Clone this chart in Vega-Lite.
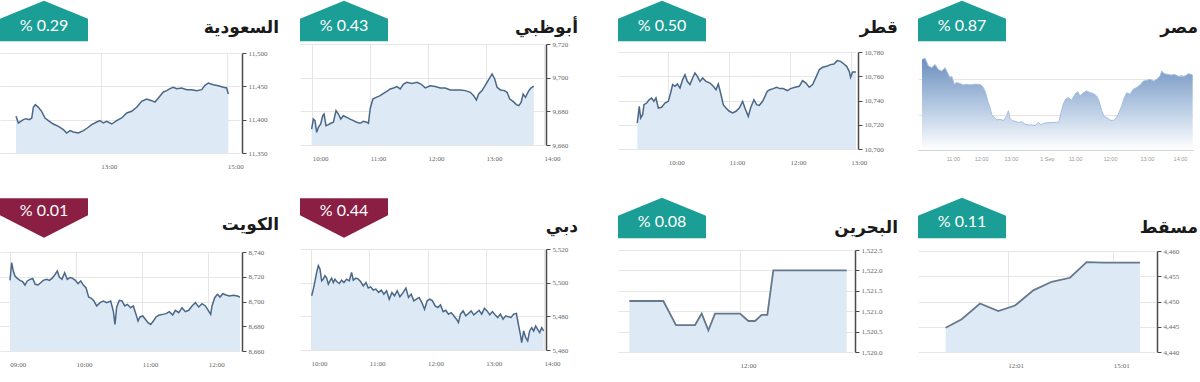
{
"$schema": "https://vega.github.io/schema/vega-lite/v6.json",
"padding": 0,
"background": "#ffffff",
"config": {
  "view": {"stroke": null},
  "axis": {"labelFont": "Liberation Serif", "labelFontSize": 7, "labelColor": "#666666", "gridColor": "#e6e6e6", "labelFlush": false, "labelOverlap": false, "grid": true},
  "axisX": {"domain": false, "ticks": false, "labelAlign": "left", "labelPadding": 9},
  "axisY": {"domainColor": "#4a4a4a", "domainWidth": 1.5, "tickColor": "#4a4a4a", "tickSize": 4, "labelPadding": 2},
  "title": {"font": "DejaVu Sans", "fontSize": 17, "fontWeight": "bold", "color": "#1a1a1a", "anchor": "end", "frame": "group", "baseline": "alphabetic"}
},
"datasets": {
  "badges": [
    {"m": "السعودية", "label": "% 0.29", "dir": "up"},
    {"m": "أبوظبي", "label": "% 0.43", "dir": "up"},
    {"m": "قطر", "label": "% 0.50", "dir": "up"},
    {"m": "مصر", "label": "% 0.87", "dir": "up"},
    {"m": "الكويت", "label": "% 0.01", "dir": "down"},
    {"m": "دبي", "label": "% 0.44", "dir": "down"},
    {"m": "البحرين", "label": "% 0.08", "dir": "up"},
    {"m": "مسقط", "label": "% 0.11", "dir": "up"}
  ],
  "saudi": [
    {"h":11.663,"v":11405},{"h":11.700,"v":11395},{"h":11.737,"v":11397.5},{"h":11.779,"v":11400},{"h":11.821,"v":11401.5},{"h":11.874,"v":11400},{"h":11.911,"v":11402.5},{"h":11.937,"v":11418.5},{"h":11.968,"v":11422.5},{"h":12.016,"v":11418.5},{"h":12.068,"v":11412.5},{"h":12.121,"v":11402.5},{"h":12.174,"v":11398.5},{"h":12.253,"v":11393.5},{"h":12.332,"v":11390},{"h":12.411,"v":11385},{"h":12.463,"v":11380},{"h":12.516,"v":11383.5},{"h":12.568,"v":11381.5},{"h":12.647,"v":11380},{"h":12.726,"v":11383.5},{"h":12.789,"v":11387.5},{"h":12.858,"v":11392.5},{"h":12.937,"v":11396.5},{"h":12.989,"v":11398.5},{"h":13.042,"v":11395},{"h":13.095,"v":11397.5},{"h":13.174,"v":11393.5},{"h":13.253,"v":11398.5},{"h":13.332,"v":11402.5},{"h":13.411,"v":11410},{"h":13.489,"v":11412.5},{"h":13.568,"v":11418.5},{"h":13.647,"v":11427.5},{"h":13.726,"v":11431},{"h":13.805,"v":11428.5},{"h":13.858,"v":11426.5},{"h":13.911,"v":11432.5},{"h":13.989,"v":11441.5},{"h":14.042,"v":11443.5},{"h":14.095,"v":11446.5},{"h":14.147,"v":11448.5},{"h":14.2,"v":11446.5},{"h":14.279,"v":11447.5},{"h":14.358,"v":11445},{"h":14.437,"v":11445},{"h":14.516,"v":11443.5},{"h":14.595,"v":11445},{"h":14.647,"v":11451.5},{"h":14.7,"v":11455},{"h":14.779,"v":11452.5},{"h":14.858,"v":11451},{"h":14.937,"v":11448.5},{"h":14.989,"v":11447.5},{"h":15.016,"v":11438.5}
  ],
  "abudhabi": [
    {"h":9.991,"v":9669.5},{"h":10.020,"v":9675.4},{"h":10.049,"v":9674.5},{"h":10.078,"v":9667.5},{"h":10.107,"v":9670.5},{"h":10.147,"v":9672.5},{"h":10.182,"v":9677.4},{"h":10.205,"v":9678.4},{"h":10.239,"v":9671.5},{"h":10.280,"v":9672.1},{"h":10.320,"v":9672.9},{"h":10.366,"v":9673.5},{"h":10.412,"v":9680.4},{"h":10.452,"v":9678.4},{"h":10.493,"v":9675.4},{"h":10.539,"v":9677.4},{"h":10.597,"v":9676.4},{"h":10.654,"v":9675.4},{"h":10.712,"v":9674.5},{"h":10.769,"v":9673.5},{"h":10.827,"v":9672.9},{"h":10.885,"v":9674.1},{"h":10.942,"v":9673.5},{"h":10.971,"v":9672.9},{"h":11.000,"v":9681.4},{"h":11.046,"v":9687.3},{"h":11.104,"v":9688.3},{"h":11.173,"v":9689.3},{"h":11.231,"v":9690.7},{"h":11.288,"v":9691.9},{"h":11.346,"v":9693.3},{"h":11.403,"v":9693.9},{"h":11.461,"v":9694.7},{"h":11.519,"v":9693.3},{"h":11.576,"v":9696.2},{"h":11.634,"v":9697.2},{"h":11.720,"v":9696.6},{"h":11.807,"v":9697.2},{"h":11.876,"v":9696.2},{"h":11.951,"v":9693.9},{"h":12.037,"v":9695.2},{"h":12.124,"v":9694.7},{"h":12.210,"v":9693.9},{"h":12.297,"v":9693.9},{"h":12.383,"v":9692.7},{"h":12.470,"v":9692.7},{"h":12.556,"v":9692.7},{"h":12.643,"v":9692.3},{"h":12.729,"v":9691.3},{"h":12.787,"v":9689.3},{"h":12.833,"v":9686.7},{"h":12.873,"v":9690.3},{"h":12.931,"v":9692.3},{"h":13.017,"v":9697.2},{"h":13.104,"v":9702.2},{"h":13.150,"v":9699.2},{"h":13.190,"v":9694.3},{"h":13.248,"v":9692.7},{"h":13.317,"v":9692.3},{"h":13.363,"v":9691.3},{"h":13.409,"v":9687.3},{"h":13.467,"v":9685.9},{"h":13.524,"v":9684.0},{"h":13.565,"v":9683.4},{"h":13.605,"v":9685.3},{"h":13.640,"v":9690.3},{"h":13.680,"v":9688.3},{"h":13.738,"v":9692.3},{"h":13.778,"v":9693.9},{"h":13.824,"v":9695.0}
  ],
  "qatar": [
    {"h":9.490,"v":10721.4},{"h":9.523,"v":10735.2},{"h":9.545,"v":10725.6},{"h":9.578,"v":10728.3},{"h":9.600,"v":10736.6},{"h":9.644,"v":10737.9},{"h":9.688,"v":10740.7},{"h":9.726,"v":10742.1},{"h":9.764,"v":10739.3},{"h":9.797,"v":10742.1},{"h":9.836,"v":10733.8},{"h":9.890,"v":10734.4},{"h":9.945,"v":10737.9},{"h":10.000,"v":10739.3},{"h":10.038,"v":10746.2},{"h":10.071,"v":10753.1},{"h":10.110,"v":10751.7},{"h":10.148,"v":10753.6},{"h":10.192,"v":10750.3},{"h":10.236,"v":10757.2},{"h":10.274,"v":10761.3},{"h":10.312,"v":10755.8},{"h":10.356,"v":10753.1},{"h":10.400,"v":10758.6},{"h":10.438,"v":10762.7},{"h":10.477,"v":10759.9},{"h":10.521,"v":10755.8},{"h":10.564,"v":10758.6},{"h":10.619,"v":10755.8},{"h":10.685,"v":10754.4},{"h":10.740,"v":10751.7},{"h":10.784,"v":10748.9},{"h":10.822,"v":10753.6},{"h":10.860,"v":10746.2},{"h":10.904,"v":10736.6},{"h":10.948,"v":10733.8},{"h":11.003,"v":10731.1},{"h":11.058,"v":10729.7},{"h":11.112,"v":10731.1},{"h":11.167,"v":10733.8},{"h":11.222,"v":10739.3},{"h":11.260,"v":10733.8},{"h":11.315,"v":10726.9},{"h":11.353,"v":10733.8},{"h":11.408,"v":10740.7},{"h":11.452,"v":10736.6},{"h":11.496,"v":10736.0},{"h":11.551,"v":10739.3},{"h":11.589,"v":10743.4},{"h":11.627,"v":10747.6},{"h":11.671,"v":10748.9},{"h":11.726,"v":10749.8},{"h":11.781,"v":10750.9},{"h":11.836,"v":10749.8},{"h":11.890,"v":10749.8},{"h":11.956,"v":10748.1},{"h":12.011,"v":10749.8},{"h":12.082,"v":10750.9},{"h":12.153,"v":10751.7},{"h":12.208,"v":10756.4},{"h":12.263,"v":10754.4},{"h":12.318,"v":10750.9},{"h":12.373,"v":10753.1},{"h":12.427,"v":10759.1},{"h":12.482,"v":10765.4},{"h":12.537,"v":10767.4},{"h":12.603,"v":10768.2},{"h":12.668,"v":10769.6},{"h":12.723,"v":10770.1},{"h":12.778,"v":10772.9},{"h":12.833,"v":10772.3},{"h":12.888,"v":10770.1},{"h":12.932,"v":10768.2},{"h":12.975,"v":10764.1},{"h":12.997,"v":10759.1},{"h":13.030,"v":10763.5},{"h":13.085,"v":10763.5}
  ],
  "egypt": [
    {"h":0,"v":7.556},{"h":1.11,"v":7.560},{"h":2.34,"v":7.538},{"h":3.57,"v":7.533},{"h":4.80,"v":7.542},{"h":6.03,"v":7.528},{"h":7.26,"v":7.523},{"h":8.49,"v":7.533},{"h":9.72,"v":7.514},{"h":10.33,"v":7.505},{"h":10.95,"v":7.509},{"h":11.93,"v":7.486},{"h":12.79,"v":7.491},{"h":14.02,"v":7.488},{"h":15.25,"v":7.484},{"h":16.48,"v":7.486},{"h":17.71,"v":7.484},{"h":18.94,"v":7.486},{"h":20.79,"v":7.486},{"h":21.77,"v":7.484},{"h":22.63,"v":7.477},{"h":23.49,"v":7.462},{"h":24.23,"v":7.439},{"h":25.09,"v":7.420},{"h":25.71,"v":7.401},{"h":26.69,"v":7.392},{"h":27.55,"v":7.385},{"h":28.78,"v":7.387},{"h":30.01,"v":7.383},{"h":31.24,"v":7.397},{"h":31.86,"v":7.411},{"h":32.47,"v":7.390},{"h":33.33,"v":7.383},{"h":34.32,"v":7.381},{"h":35.55,"v":7.378},{"h":36.78,"v":7.380},{"h":38.01,"v":7.373},{"h":39.24,"v":7.371},{"h":40.47,"v":7.371},{"h":41.70,"v":7.369},{"h":42.93,"v":7.378},{"h":43.91,"v":7.371},{"h":44.77,"v":7.375},{"h":46.00,"v":7.377},{"h":47.85,"v":7.378},{"h":49.69,"v":7.378},{"h":50.55,"v":7.380},{"h":51.29,"v":7.406},{"h":52.15,"v":7.430},{"h":53.01,"v":7.444},{"h":54.00,"v":7.448},{"h":55.23,"v":7.441},{"h":56.46,"v":7.458},{"h":57.44,"v":7.465},{"h":58.30,"v":7.453},{"h":59.53,"v":7.462},{"h":60.76,"v":7.467},{"h":61.99,"v":7.462},{"h":63.22,"v":7.460},{"h":64.45,"v":7.453},{"h":65.31,"v":7.439},{"h":66.30,"v":7.411},{"h":67.28,"v":7.394},{"h":68.51,"v":7.390},{"h":69.74,"v":7.383},{"h":70.97,"v":7.385},{"h":71.83,"v":7.392},{"h":72.69,"v":7.406},{"h":73.68,"v":7.425},{"h":74.66,"v":7.448},{"h":75.52,"v":7.462},{"h":76.75,"v":7.458},{"h":77.98,"v":7.472},{"h":79.21,"v":7.477},{"h":80.44,"v":7.484},{"h":81.67,"v":7.495},{"h":82.90,"v":7.497},{"h":84.13,"v":7.500},{"h":85.36,"v":7.495},{"h":86.59,"v":7.500},{"h":87.82,"v":7.509},{"h":88.44,"v":7.523},{"h":89.42,"v":7.516},{"h":90.65,"v":7.514},{"h":91.88,"v":7.512},{"h":93.11,"v":7.514},{"h":94.59,"v":7.509},{"h":95.82,"v":7.507},{"h":97.05,"v":7.509},{"h":98.28,"v":7.516},{"h":99.26,"v":7.514},{"h":99.88,"v":7.512}
  ],
  "kuwait": [
    {"h":9.003,"v":8717.1},{"h":9.028,"v":8731.4},{"h":9.053,"v":8724.6},{"h":9.078,"v":8720.6},{"h":9.113,"v":8718.7},{"h":9.154,"v":8717.1},{"h":9.194,"v":8716.0},{"h":9.229,"v":8713.3},{"h":9.264,"v":8716.6},{"h":9.305,"v":8717.9},{"h":9.345,"v":8718.7},{"h":9.385,"v":8713.9},{"h":9.426,"v":8713.3},{"h":9.466,"v":8715.2},{"h":9.506,"v":8717.1},{"h":9.557,"v":8717.9},{"h":9.597,"v":8717.1},{"h":9.637,"v":8718.7},{"h":9.678,"v":8721.4},{"h":9.718,"v":8724.6},{"h":9.748,"v":8719.8},{"h":9.788,"v":8717.9},{"h":9.829,"v":8723.3},{"h":9.869,"v":8717.9},{"h":9.909,"v":8719.3},{"h":9.950,"v":8718.7},{"h":9.990,"v":8717.1},{"h":10.030,"v":8714.4},{"h":10.071,"v":8716.6},{"h":10.111,"v":8713.3},{"h":10.151,"v":8711.2},{"h":10.191,"v":8703.6},{"h":10.232,"v":8702.6},{"h":10.272,"v":8700.4},{"h":10.312,"v":8696.4},{"h":10.363,"v":8699.1},{"h":10.413,"v":8700.4},{"h":10.463,"v":8699.1},{"h":10.524,"v":8700.4},{"h":10.564,"v":8692.3},{"h":10.589,"v":8681.5},{"h":10.615,"v":8695.6},{"h":10.655,"v":8700.9},{"h":10.695,"v":8700.4},{"h":10.736,"v":8696.4},{"h":10.776,"v":8697.7},{"h":10.826,"v":8695.0},{"h":10.866,"v":8696.4},{"h":10.907,"v":8689.6},{"h":10.937,"v":8684.2},{"h":10.967,"v":8687.5},{"h":11.008,"v":8688.3},{"h":11.048,"v":8685.6},{"h":11.088,"v":8682.9},{"h":11.128,"v":8681.5},{"h":11.169,"v":8684.2},{"h":11.209,"v":8687.5},{"h":11.259,"v":8689.1},{"h":11.310,"v":8689.6},{"h":11.360,"v":8690.2},{"h":11.411,"v":8691.8},{"h":11.461,"v":8689.1},{"h":11.501,"v":8692.9},{"h":11.552,"v":8691.0},{"h":11.602,"v":8695.0},{"h":11.652,"v":8691.8},{"h":11.703,"v":8692.9},{"h":11.753,"v":8696.4},{"h":11.804,"v":8699.1},{"h":11.854,"v":8695.6},{"h":11.904,"v":8698.2},{"h":11.955,"v":8696.4},{"h":12.005,"v":8692.3},{"h":12.035,"v":8689.6},{"h":12.055,"v":8696.4},{"h":12.096,"v":8703.1},{"h":12.136,"v":8705.8},{"h":12.176,"v":8703.6},{"h":12.217,"v":8706.3},{"h":12.267,"v":8705.3},{"h":12.317,"v":8704.4},{"h":12.378,"v":8705.0},{"h":12.438,"v":8704.4},{"h":12.479,"v":8703.6}
  ],
  "dubai": [
    {"h":10.011,"v":5492.2},{"h":10.040,"v":5496.2},{"h":10.069,"v":5501.1},{"h":10.097,"v":5506.1},{"h":10.126,"v":5510.1},{"h":10.154,"v":5508.1},{"h":10.183,"v":5501.1},{"h":10.211,"v":5502.1},{"h":10.240,"v":5504.1},{"h":10.269,"v":5502.7},{"h":10.297,"v":5499.1},{"h":10.326,"v":5501.1},{"h":10.354,"v":5502.7},{"h":10.383,"v":5500.1},{"h":10.411,"v":5502.1},{"h":10.440,"v":5500.7},{"h":10.486,"v":5499.5},{"h":10.526,"v":5501.5},{"h":10.566,"v":5500.1},{"h":10.611,"v":5502.1},{"h":10.657,"v":5501.1},{"h":10.697,"v":5506.1},{"h":10.726,"v":5501.5},{"h":10.771,"v":5502.7},{"h":10.811,"v":5502.1},{"h":10.851,"v":5500.7},{"h":10.897,"v":5498.1},{"h":10.943,"v":5500.1},{"h":10.983,"v":5496.8},{"h":11.023,"v":5497.5},{"h":11.069,"v":5495.6},{"h":11.114,"v":5496.2},{"h":11.160,"v":5494.2},{"h":11.206,"v":5495.6},{"h":11.251,"v":5493.2},{"h":11.297,"v":5495.2},{"h":11.343,"v":5490.2},{"h":11.389,"v":5494.2},{"h":11.434,"v":5492.2},{"h":11.480,"v":5495.2},{"h":11.526,"v":5491.6},{"h":11.583,"v":5494.2},{"h":11.629,"v":5496.8},{"h":11.674,"v":5491.2},{"h":11.720,"v":5493.2},{"h":11.766,"v":5489.2},{"h":11.811,"v":5490.2},{"h":11.857,"v":5491.2},{"h":11.903,"v":5488.2},{"h":11.949,"v":5484.2},{"h":11.994,"v":5489.2},{"h":12.040,"v":5490.2},{"h":12.086,"v":5489.2},{"h":12.131,"v":5486.2},{"h":12.177,"v":5485.2},{"h":12.223,"v":5486.8},{"h":12.269,"v":5482.8},{"h":12.314,"v":5483.6},{"h":12.360,"v":5481.3},{"h":12.406,"v":5482.2},{"h":12.451,"v":5480.3},{"h":12.497,"v":5478.3},{"h":12.531,"v":5476.3},{"h":12.566,"v":5481.3},{"h":12.611,"v":5483.2},{"h":12.657,"v":5480.3},{"h":12.703,"v":5481.7},{"h":12.749,"v":5483.2},{"h":12.794,"v":5480.9},{"h":12.840,"v":5482.2},{"h":12.886,"v":5483.6},{"h":12.931,"v":5481.3},{"h":12.977,"v":5484.8},{"h":13.023,"v":5483.2},{"h":13.069,"v":5480.9},{"h":13.114,"v":5482.8},{"h":13.160,"v":5480.9},{"h":13.206,"v":5479.3},{"h":13.251,"v":5481.3},{"h":13.297,"v":5478.3},{"h":13.343,"v":5480.3},{"h":13.389,"v":5479.7},{"h":13.434,"v":5479.3},{"h":13.480,"v":5481.3},{"h":13.526,"v":5481.7},{"h":13.560,"v":5475.3},{"h":13.594,"v":5469.3},{"h":13.617,"v":5464.4},{"h":13.651,"v":5471.3},{"h":13.686,"v":5467.3},{"h":13.720,"v":5465.4},{"h":13.754,"v":5471.3},{"h":13.789,"v":5473.3},{"h":13.823,"v":5471.3},{"h":13.857,"v":5474.3},{"h":13.891,"v":5472.3},{"h":13.926,"v":5470.3},{"h":13.960,"v":5473.3},{"h":13.994,"v":5471.3}
  ],
  "bahrain": [
    {"h":10.0,"v":1521.25},{"h":10.614,"v":1521.25},{"h":10.843,"v":1520.66},{"h":11.187,"v":1520.66},{"h":11.307,"v":1520.94},{"h":11.428,"v":1520.53},{"h":11.548,"v":1520.94},{"h":12.0,"v":1520.94},{"h":12.151,"v":1520.76},{"h":12.271,"v":1520.76},{"h":12.392,"v":1520.91},{"h":12.494,"v":1520.91},{"h":12.602,"v":1522.0},{"h":13.928,"v":1522.0}
  ],
  "muscat": [
    {"h":10.257,"v":4444.8},{"h":10.711,"v":4446.5},{"h":11.231,"v":4449.6},{"h":11.752,"v":4448.1},{"h":12.225,"v":4449.2},{"h":12.745,"v":4452.2},{"h":13.266,"v":4453.9},{"h":13.786,"v":4454.7},{"h":14.259,"v":4457.8},{"h":14.732,"v":4457.7},{"h":15.773,"v":4457.7}
  ]
},
"vconcat": [
 {"spacing": 40, "hconcat": [
  {"spacing": 21, "hconcat": [
   {"bounds": "flush", "spacing": 12, "vconcat": [
     {"width": 88, "height": 40, "data": {"name": "badges"}, "transform": [{"filter": "datum.m == 'السعودية'"}],
      "encoding": {"x": {"field": "m", "type": "nominal", "axis": null}, "y": {"field": "m", "type": "nominal", "axis": null}},
      "layer": [
        {"mark": {"type": "point", "filled": true, "size": 7744, "opacity": 1, "strokeWidth": 0},
         "encoding": {"shape": {"field": "dir", "type": "nominal", "scale": {"domain": ["up", "down"], "range": ["M-1,-0.05L0,-0.46L1,-0.05L1,0.46L-1,0.46Z", "M-1,-0.45L1,-0.45L1,-0.06L0,0.45L-1,-0.06Z"]}, "legend": null},
                      "color": {"field": "dir", "type": "nominal", "scale": {"domain": ["up", "down"], "range": ["#1b9e95", "#8b1e43"]}, "legend": null}}},
        {"mark": {"type": "text", "font": "Lato", "fontSize": 16, "color": "#ffffff", "dy": 5}, "encoding": {"text": {"field": "label"}}}
      ]},
     {"width": 240, "height": 100, "data": {"name": "saudi"},
      "title": {"text": "السعودية", "dx": 39, "offset": 12},
      "encoding": {
        "x": {"field": "h", "type": "quantitative", "scale": {"domain": [11.41, 15.2]}, "axis": {"title": null, "values": [13, 15], "labelExpr": "format(floor(datum.value+0.001),'02d')+':'+format(round((datum.value-floor(datum.value+0.001))*60),'02d')"}},
        "y": {"field": "v", "type": "quantitative", "scale": {"domain": [11350, 11500], "zero": false}, "axis": {"title": null, "orient": "right", "offset": 2, "values": [11350, 11400, 11450, 11500], "format": ",.0f"}}
      },
      "layer": [
        {"mark": {"type": "area", "color": "#dde9f5", "clip": true}},
        {"mark": {"type": "line", "color": "#4b6788", "strokeWidth": 1.5, "clip": true}}
      ]}
   ]},
   {"bounds": "flush", "spacing": 3, "vconcat": [
     {"width": 88, "height": 40, "data": {"name": "badges"}, "transform": [{"filter": "datum.m == 'أبوظبي'"}],
      "encoding": {"x": {"field": "m", "type": "nominal", "axis": null}, "y": {"field": "m", "type": "nominal", "axis": null}},
      "layer": [
        {"mark": {"type": "point", "filled": true, "size": 7744, "opacity": 1, "strokeWidth": 0},
         "encoding": {"shape": {"field": "dir", "type": "nominal", "scale": {"domain": ["up", "down"], "range": ["M-1,-0.05L0,-0.46L1,-0.05L1,0.46L-1,0.46Z", "M-1,-0.45L1,-0.45L1,-0.06L0,0.45L-1,-0.06Z"]}, "legend": null},
                      "color": {"field": "dir", "type": "nominal", "scale": {"domain": ["up", "down"], "range": ["#1b9e95", "#8b1e43"]}, "legend": null}}},
        {"mark": {"type": "text", "font": "Lato", "fontSize": 16, "color": "#ffffff", "dy": 5}, "encoding": {"text": {"field": "label"}}}
      ]},
     {"width": 244, "height": 101, "data": {"name": "abudhabi"},
      "title": {"text": "أبوظبي", "dx": 34, "offset": 3},
      "encoding": {
        "x": {"field": "h", "type": "quantitative", "scale": {"domain": [9.79, 14.0]}, "axis": {"title": null, "values": [10, 11, 12, 13, 14], "labelExpr": "format(floor(datum.value+0.001),'02d')+':'+format(round((datum.value-floor(datum.value+0.001))*60),'02d')"}},
        "y": {"field": "v", "type": "quantitative", "scale": {"domain": [9660, 9720], "zero": false}, "axis": {"title": null, "orient": "right", "offset": 2, "values": [9660, 9680, 9700, 9720], "format": ",.0f"}}
      },
      "layer": [
        {"mark": {"type": "area", "color": "#dde9f5", "clip": true}},
        {"mark": {"type": "line", "color": "#4b6788", "strokeWidth": 1.5, "clip": true}}
      ]}
   ]}
  ]},
  {"spacing": 20, "hconcat": [
   {"bounds": "flush", "spacing": 11, "vconcat": [
     {"width": 88, "height": 40, "data": {"name": "badges"}, "transform": [{"filter": "datum.m == 'قطر'"}],
      "encoding": {"x": {"field": "m", "type": "nominal", "axis": null}, "y": {"field": "m", "type": "nominal", "axis": null}},
      "layer": [
        {"mark": {"type": "point", "filled": true, "size": 7744, "opacity": 1, "strokeWidth": 0},
         "encoding": {"shape": {"field": "dir", "type": "nominal", "scale": {"domain": ["up", "down"], "range": ["M-1,-0.05L0,-0.46L1,-0.05L1,0.46L-1,0.46Z", "M-1,-0.45L1,-0.45L1,-0.06L0,0.45L-1,-0.06Z"]}, "legend": null},
                      "color": {"field": "dir", "type": "nominal", "scale": {"domain": ["up", "down"], "range": ["#1b9e95", "#8b1e43"]}, "legend": null}}},
        {"mark": {"type": "text", "font": "Lato", "fontSize": 16, "color": "#ffffff", "dy": 5}, "encoding": {"text": {"field": "label"}}}
      ]},
     {"width": 238, "height": 97, "data": {"name": "qatar"},
      "title": {"text": "قطر", "dx": 42, "offset": 11},
      "encoding": {
        "x": {"field": "h", "type": "quantitative", "scale": {"domain": [9.173, 13.086]}, "axis": {"title": null, "values": [10, 11, 12, 13], "labelExpr": "format(floor(datum.value+0.001),'02d')+':'+format(round((datum.value-floor(datum.value+0.001))*60),'02d')"}},
        "y": {"field": "v", "type": "quantitative", "scale": {"domain": [10700, 10780], "zero": false}, "axis": {"title": null, "orient": "right", "offset": 2, "values": [10700, 10720, 10740, 10760, 10780], "format": ",.0f"}}
      },
      "layer": [
        {"mark": {"type": "area", "color": "#dde9f5", "clip": true}},
        {"mark": {"type": "line", "color": "#4b6788", "strokeWidth": 1.5, "clip": true}}
      ]}
   ]},
   {"bounds": "flush", "spacing": 3, "vconcat": [
     {"width": 88, "height": 40, "data": {"name": "badges"}, "transform": [{"filter": "datum.m == 'مصر'"}],
      "encoding": {"x": {"field": "m", "type": "nominal", "axis": null}, "y": {"field": "m", "type": "nominal", "axis": null}},
      "layer": [
        {"mark": {"type": "point", "filled": true, "size": 7744, "opacity": 1, "strokeWidth": 0},
         "encoding": {"shape": {"field": "dir", "type": "nominal", "scale": {"domain": ["up", "down"], "range": ["M-1,-0.05L0,-0.46L1,-0.05L1,0.46L-1,0.46Z", "M-1,-0.45L1,-0.45L1,-0.06L0,0.45L-1,-0.06Z"]}, "legend": null},
                      "color": {"field": "dir", "type": "nominal", "scale": {"domain": ["up", "down"], "range": ["#1b9e95", "#8b1e43"]}, "legend": null}}},
        {"mark": {"type": "text", "font": "Lato", "fontSize": 16, "color": "#ffffff", "dy": 5}, "encoding": {"text": {"field": "label"}}}
      ]},
     {"width": 275, "height": 106, "data": {"name": "egypt"},
      "title": {"text": "مصر", "dx": 5, "offset": 7},
      "encoding": {
        "x": {"field": "h", "type": "quantitative", "scale": {"domain": [-1.476, 100]}, "axis": {"title": null, "values": [11.4, 21.8, 32.8, 46.1, 56.5, 69.4, 83, 95.2], "labelExpr": "['11:00','12:00','13:00','1 Sep','11:00','12:00','13:00','14:00'][indexof([11.4,21.8,32.8,46.1,56.5,69.4,83,95.2], datum.value)]", "grid": false, "domain": true, "domainColor": "#d5d5d5", "domainWidth": 1, "labelAlign": "center", "labelPadding": 6, "labelFontSize": 5.5, "labelColor": "#999999", "labelFont": "Liberation Sans"}},
        "y": {"field": "v", "type": "quantitative", "scale": {"domain": [7.3, 7.6], "zero": false}, "axis": {"title": null, "orient": "right", "values": [7.3, 7.4, 7.5], "format": ".2f", "domain": false, "ticks": false, "tickSize": 0, "labelPadding": -3, "labelAlign": "right", "labelBaseline": "bottom", "labelFontSize": 5.5, "labelColor": "#999999", "labelFont": "Liberation Sans", "gridColor": "#ebe4de"}}
      },
      "layer": [
        {"mark": {"type": "area", "clip": true, "color": {"x1": 0, "y1": 0, "x2": 0, "y2": 1, "gradient": "linear", "stops": [{"offset": 0, "color": "#6a8ebd"}, {"offset": 0.55, "color": "#b9cce4"}, {"offset": 1, "color": "#ffffff"}]}},
         "encoding": {"y2": {"datum": 7.3}}},
        {"mark": {"type": "line", "color": "#a2bfe2", "strokeWidth": 1, "clip": true}}
      ]}
   ]}
  ]}
 ]},
 {"spacing": 40, "hconcat": [
  {"spacing": 21, "hconcat": [
   {"bounds": "flush", "spacing": 14, "vconcat": [
     {"width": 88, "height": 40, "data": {"name": "badges"}, "transform": [{"filter": "datum.m == 'الكويت'"}],
      "encoding": {"x": {"field": "m", "type": "nominal", "axis": null}, "y": {"field": "m", "type": "nominal", "axis": null}},
      "layer": [
        {"mark": {"type": "point", "filled": true, "size": 7744, "opacity": 1, "strokeWidth": 0},
         "encoding": {"shape": {"field": "dir", "type": "nominal", "scale": {"domain": ["up", "down"], "range": ["M-1,-0.05L0,-0.46L1,-0.05L1,0.46L-1,0.46Z", "M-1,-0.45L1,-0.45L1,-0.06L0,0.45L-1,-0.06Z"]}, "legend": null},
                      "color": {"field": "dir", "type": "nominal", "scale": {"domain": ["up", "down"], "range": ["#1b9e95", "#8b1e43"]}, "legend": null}}},
        {"mark": {"type": "text", "font": "Lato", "fontSize": 16, "color": "#ffffff", "dy": -7}, "encoding": {"text": {"field": "label"}}}
      ]},
     {"width": 240, "height": 99, "data": {"name": "kuwait"},
      "title": {"text": "الكويت", "dx": 39, "offset": 14},
      "encoding": {
        "x": {"field": "h", "type": "quantitative", "scale": {"domain": [8.852, 12.478]}, "axis": {"title": null, "values": [9, 10, 11, 12], "labelExpr": "format(floor(datum.value+0.001),'02d')+':'+format(round((datum.value-floor(datum.value+0.001))*60),'02d')"}},
        "y": {"field": "v", "type": "quantitative", "scale": {"domain": [8660, 8740], "zero": false}, "axis": {"title": null, "orient": "right", "offset": 2, "values": [8660, 8680, 8700, 8720, 8740], "format": ",.0f"}}
      },
      "layer": [
        {"mark": {"type": "area", "color": "#dde9f5", "clip": true}},
        {"mark": {"type": "line", "color": "#4b6788", "strokeWidth": 1.5, "clip": true}}
      ]}
   ]},
   {"bounds": "flush", "spacing": 11, "vconcat": [
     {"width": 88, "height": 40, "data": {"name": "badges"}, "transform": [{"filter": "datum.m == 'دبي'"}],
      "encoding": {"x": {"field": "m", "type": "nominal", "axis": null}, "y": {"field": "m", "type": "nominal", "axis": null}},
      "layer": [
        {"mark": {"type": "point", "filled": true, "size": 7744, "opacity": 1, "strokeWidth": 0},
         "encoding": {"shape": {"field": "dir", "type": "nominal", "scale": {"domain": ["up", "down"], "range": ["M-1,-0.05L0,-0.46L1,-0.05L1,0.46L-1,0.46Z", "M-1,-0.45L1,-0.45L1,-0.06L0,0.45L-1,-0.06Z"]}, "legend": null},
                      "color": {"field": "dir", "type": "nominal", "scale": {"domain": ["up", "down"], "range": ["#1b9e95", "#8b1e43"]}, "legend": null}}},
        {"mark": {"type": "text", "font": "Lato", "fontSize": 16, "color": "#ffffff", "dy": -7}, "encoding": {"text": {"field": "label"}}}
      ]},
     {"width": 244, "height": 101, "data": {"name": "dubai"},
      "title": {"text": "دبي", "dx": 34, "offset": 9},
      "encoding": {
        "x": {"field": "h", "type": "quantitative", "scale": {"domain": [9.811, 14]}, "axis": {"title": null, "values": [10, 11, 12, 13, 14], "labelExpr": "format(floor(datum.value+0.001),'02d')+':'+format(round((datum.value-floor(datum.value+0.001))*60),'02d')"}},
        "y": {"field": "v", "type": "quantitative", "scale": {"domain": [5460, 5520], "zero": false}, "axis": {"title": null, "orient": "right", "offset": 2, "values": [5460, 5480, 5500, 5520], "format": ",.0f"}}
      },
      "layer": [
        {"mark": {"type": "area", "color": "#dde9f5", "clip": true}},
        {"mark": {"type": "line", "color": "#4b6788", "strokeWidth": 1.5, "clip": true}}
      ]}
   ]}
  ]},
  {"spacing": 20, "hconcat": [
   {"bounds": "flush", "spacing": 12, "vconcat": [
     {"width": 88, "height": 40, "data": {"name": "badges"}, "transform": [{"filter": "datum.m == 'البحرين'"}],
      "encoding": {"x": {"field": "m", "type": "nominal", "axis": null}, "y": {"field": "m", "type": "nominal", "axis": null}},
      "layer": [
        {"mark": {"type": "point", "filled": true, "size": 7744, "opacity": 1, "strokeWidth": 0},
         "encoding": {"shape": {"field": "dir", "type": "nominal", "scale": {"domain": ["up", "down"], "range": ["M-1,-0.05L0,-0.46L1,-0.05L1,0.46L-1,0.46Z", "M-1,-0.45L1,-0.45L1,-0.06L0,0.45L-1,-0.06Z"]}, "legend": null},
                      "color": {"field": "dir", "type": "nominal", "scale": {"domain": ["up", "down"], "range": ["#1b9e95", "#8b1e43"]}, "legend": null}}},
        {"mark": {"type": "text", "font": "Lato", "fontSize": 16, "color": "#ffffff", "dy": 4}, "encoding": {"text": {"field": "label"}}}
      ]},
     {"width": 235, "height": 102, "data": {"name": "bahrain"},
      "title": {"text": "البحرين", "dx": 45, "offset": 9},
      "encoding": {
        "x": {"field": "h", "type": "quantitative", "scale": {"domain": [9.795, 14.042]}, "axis": {"title": null, "values": [12], "labelExpr": "format(floor(datum.value+0.001),'02d')+':'+format(round((datum.value-floor(datum.value+0.001))*60),'02d')"}},
        "y": {"field": "v", "type": "quantitative", "scale": {"domain": [1520, 1522.5], "zero": false}, "axis": {"title": null, "orient": "right", "offset": 2, "values": [1520, 1520.5, 1521, 1521.5, 1522, 1522.5], "format": ",.1f"}}
      },
      "layer": [
        {"mark": {"type": "area", "color": "#dde9f5", "clip": true}},
        {"mark": {"type": "line", "color": "#67788c", "strokeWidth": 1.8, "clip": true}}
      ]}
   ]},
   {"bounds": "flush", "spacing": 13, "vconcat": [
     {"width": 88, "height": 40, "data": {"name": "badges"}, "transform": [{"filter": "datum.m == 'مسقط'"}],
      "encoding": {"x": {"field": "m", "type": "nominal", "axis": null}, "y": {"field": "m", "type": "nominal", "axis": null}},
      "layer": [
        {"mark": {"type": "point", "filled": true, "size": 7744, "opacity": 1, "strokeWidth": 0},
         "encoding": {"shape": {"field": "dir", "type": "nominal", "scale": {"domain": ["up", "down"], "range": ["M-1,-0.05L0,-0.46L1,-0.05L1,0.46L-1,0.46Z", "M-1,-0.45L1,-0.45L1,-0.06L0,0.45L-1,-0.06Z"]}, "legend": null},
                      "color": {"field": "dir", "type": "nominal", "scale": {"domain": ["up", "down"], "range": ["#1b9e95", "#8b1e43"]}, "legend": null}}},
        {"mark": {"type": "text", "font": "Lato", "fontSize": 16, "color": "#ffffff", "dy": 4}, "encoding": {"text": {"field": "label"}}}
      ]},
     {"width": 237, "height": 101, "data": {"name": "muscat"},
      "title": {"text": "مسقط", "dx": 43, "offset": 10},
      "encoding": {
        "x": {"field": "h", "type": "quantitative", "scale": {"domain": [9.471, 16.2]}, "axis": {"title": null, "values": [12.0167, 15.0167], "labelExpr": "format(floor(datum.value+0.001),'02d')+':'+format(round((datum.value-floor(datum.value+0.001))*60),'02d')"}},
        "y": {"field": "v", "type": "quantitative", "scale": {"domain": [4440, 4460], "zero": false}, "axis": {"title": null, "orient": "right", "offset": 2, "values": [4440, 4445, 4450, 4455, 4460], "format": ",.0f"}}
      },
      "layer": [
        {"mark": {"type": "area", "color": "#dde9f5", "clip": true}},
        {"mark": {"type": "line", "color": "#67788c", "strokeWidth": 1.8, "clip": true}}
      ]}
   ]}
  ]}
 ]}
],
"spacing": 28
}
